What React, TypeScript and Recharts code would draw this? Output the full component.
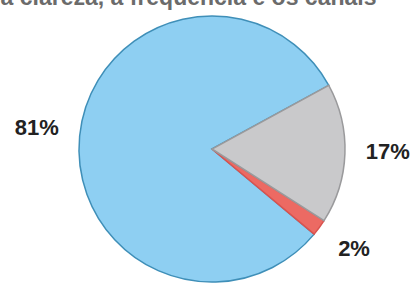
import React from "react";
import { PieChart, Pie, Cell } from "recharts";

const categories = ["Azul", "Vermelho", "Cinza"];
const values = [81, 2, 17];
const labels = ["81%", "2%", "17%"];
const colors = ["#8ecff2", "#ec6a63", "#c9c9cb"];
const strokes = ["#3f8fb8", "#d9534f", "#9a9a9c"];
const title = "Sobre a clareza, a frequência e os canais";

const data = categories.map((name, i) => ({ name, value: values[i], label: labels[i] }));

const RAD = Math.PI / 180;

const renderLabel = (props: any) => {
  const { cx, cy, midAngle, outerRadius, index } = props;
  const r = outerRadius + 43;
  const x = cx + r * Math.cos(-midAngle * RAD);
  const y = cy + r * Math.sin(-midAngle * RAD) - 4;
  return (
    <text
      x={x}
      y={y}
      textAnchor="middle"
      dominantBaseline="central"
      fill="#222"
      style={{ fontFamily: "Liberation Sans, Arial, sans-serif", fontWeight: 700, fontSize: 22 }}
    >
      {data[index].label}
    </text>
  );
};

export default function App() {
  return (
    <div style={{ position: "fixed", left: 0, top: 0, width: 416, height: 285, background: "#fff", overflow: "hidden" }}>
      <div
        style={{
          position: "absolute",
          left: -71,
          top: -16,
          width: 560,
          whiteSpace: "nowrap",
          fontFamily: "Liberation Sans, Arial, sans-serif",
          fontWeight: 700,
          fontSize: 23,
          lineHeight: "normal",
          color: "#6b6b6b",
        }}
      >
        {title}
      </div>
      <PieChart
        width={416}
        height={285}
        margin={{ top: 0, right: 0, bottom: 0, left: 0 }}
        style={{ position: "absolute", left: 0, top: 0 }}
      >
        <Pie
          data={data}
          dataKey="value"
          nameKey="name"
          cx={212}
          cy={149}
          outerRadius={133}
          startAngle={28.6}
          endAngle={388.6}
          isAnimationActive={false}
          label={renderLabel}
          labelLine={false}
        >
          {data.map((d, i) => (
            <Cell key={d.name} fill={colors[i]} stroke={strokes[i]} strokeWidth={1.5} />
          ))}
        </Pie>
      </PieChart>
    </div>
  );
}
